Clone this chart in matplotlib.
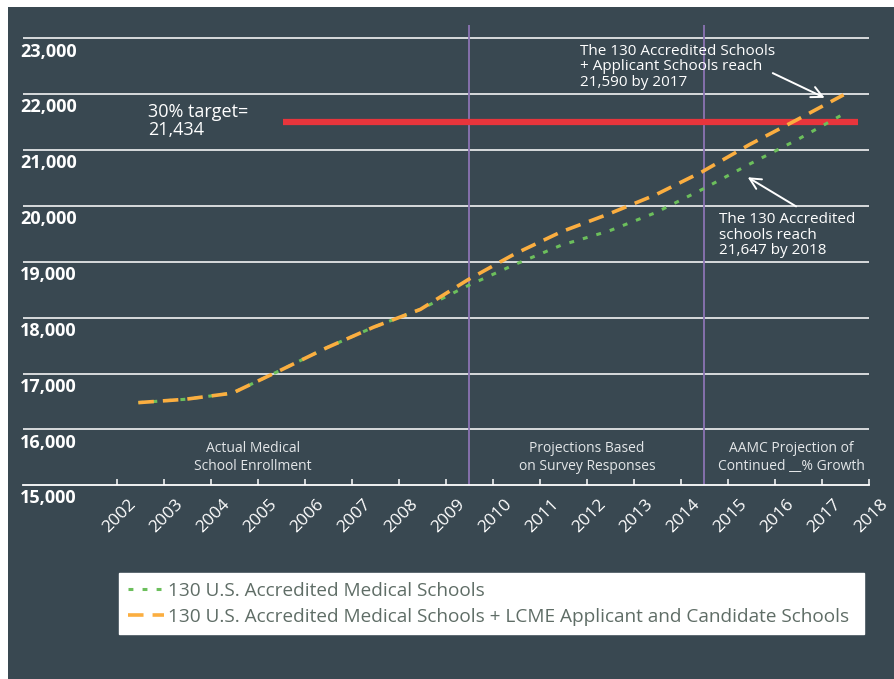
import matplotlib
matplotlib.use("Agg")
import matplotlib.pyplot as plt
from matplotlib.patches import Rectangle
import matplotlib.transforms as mtransforms

# ---------------- data ----------------
years = [2002, 2003, 2004, 2005, 2006, 2007, 2008, 2009,
         2010, 2011, 2012, 2013, 2014, 2015, 2016, 2017]
year_offset = 0.46  # points sit between year ticks
accredited = [16480, 16540, 16650, 17050, 17460, 17830, 18150, 18570,
              18950, 19300, 19550, 19880, 20300, 20750, 21180, 21647]
with_applicants = [16480, 16540, 16650, 17050, 17460, 17830, 18150, 18675,
                   19140, 19540, 19856, 20200, 20617, 21100, 21540, 21990]
target_value = 21500  # as drawn in the source (labelled 21,434)
target_span = [2005.54, 2017.77]
phase_bounds = [2009.5, 2014.5]
xtick_years = list(range(2002, 2019))
ytick_values = [15000, 16000, 17000, 18000, 19000, 20000, 21000, 22000, 23000]
phase_labels = ["Actual Medical\nSchool Enrollment",
                "Projections Based\non Survey Responses",
                "AAMC Projection of\nContinued __% Growth"]
phase_label_x = [2004.9, 2012.0, 2016.35]
series_names = ["130 U.S. Accredited Medical Schools",
                "130 U.S. Accredited Medical Schools + LCME Applicant and Candidate Schools"]

# ---------------- style ----------------
BG = "#394851"
GREEN = "#6cbf5c"
ORANGE = "#fbae40"
RED = "#e8353c"
PURPLE = "#8b74b3"
GRID = "#e4e6e7"
FONT = "Open Sans"
plt.rcParams["font.family"] = [FONT, "DejaVu Sans"]

W, H = 894, 679
fig = plt.figure(figsize=(W / 100, H / 100), dpi=100, facecolor=BG)
fig.patches.append(Rectangle((0, 0), 8 / W, 1, transform=fig.transFigure,
                             facecolor="white", edgecolor="none", zorder=-1))
fig.patches.append(Rectangle((0, 1 - 7 / H), 1, 7 / H, transform=fig.transFigure,
                             facecolor="white", edgecolor="none", zorder=-1))

left, right, bottom, top = 22.7, 869, 485.3, 25
ax = fig.add_axes([left / W, 1 - bottom / H, (right - left) / W, (bottom - top) / H])
ax.set_facecolor(BG)
ax.set_xlim(2000, 2018)
ax.set_ylim(15000, 23240)

for s in ["top", "right", "left"]:
    ax.spines[s].set_visible(False)
ax.spines["bottom"].set_color("white")
ax.spines["bottom"].set_linewidth(1.3)

for v in ytick_values[1:]:
    ax.axhline(v, color=GRID, lw=1.3, zorder=1)
ax.set_yticks([])

ytrans = mtransforms.blended_transform_factory(ax.transAxes, ax.transData)
for v in ytick_values:
    ax.annotate(f"{v:,}", xy=(0, v), xycoords=ytrans, xytext=(-2, -3),
                textcoords="offset points", ha="left", va="top",
                color="white", fontsize=13, fontweight="bold")

ax.set_xticks(xtick_years)
ax.set_xticklabels([str(y) for y in xtick_years], rotation=45, ha="right",
                   va="top", rotation_mode="anchor", color="white", fontsize=12.5)
ax.tick_params(axis="x", direction="in", length=4.5, width=1.1, color="white", pad=8)
offset = mtransforms.ScaledTranslation(0.11, 0, fig.dpi_scale_trans)
for lab in ax.get_xticklabels():
    lab.set_transform(lab.get_transform() + offset)

for b in phase_bounds:
    ax.axvline(b, color=PURPLE, lw=1.3, zorder=2)

for lab, xv in zip(phase_labels, phase_label_x):
    ax.text(xv, 15495, lab, ha="center", va="center", color="#e3e6e8",
            fontsize=10, linespacing=1.25)

ax.plot(target_span, [target_value, target_value], color=RED, lw=4.5,
        solid_capstyle="butt", zorder=3)
ax.text(2002.67, 21520, "30% target=\n21,434", color="white", fontsize=13,
        ha="left", va="center", linespacing=1.05)

xs = [y + year_offset for y in years]
l1, = ax.plot(xs, accredited, color=GREEN, lw=2.2, dashes=(1.6, 3.0),
              label=series_names[0], zorder=4)
l2, = ax.plot(xs, with_applicants, color=ORANGE, lw=2.6, dashes=(4.3, 2.5),
              label=series_names[1], zorder=5)

ax.text(2011.86, 22490, "The 130 Accredited Schools\n+ Applicant Schools reach\n21,590 by 2017",
        color="white", fontsize=11, ha="left", va="center", linespacing=1.08)
ax.annotate("", xy=(2017.11, 21915), xytext=(2015.9, 22400),
            arrowprops=dict(arrowstyle="->,head_length=0.8,head_width=0.4",
                            color="white", lw=1.4))
ax.text(2014.82, 19480, "The 130 Accredited\nschools reach\n21,647 by 2018",
        color="white", fontsize=11, ha="left", va="center", linespacing=1.08)
ax.annotate("", xy=(2015.37, 20540), xytext=(2016.5, 19967),
            arrowprops=dict(arrowstyle="->,head_length=0.8,head_width=0.4",
                            color="white", lw=1.4))

leg = fig.legend(handles=[l1, l2], labels=series_names, loc="upper left",
                 bbox_to_anchor=(119 / W, 1 - 574 / H, (864 - 119) / W, 0.001),
                 mode="expand", frameon=True,
                 facecolor="white", edgecolor="white", fancybox=False,
                 framealpha=1, fontsize=13.7, handlelength=1.9,
                 handletextpad=0.25, labelspacing=0.42, borderpad=0.45,
                 borderaxespad=0)
for t in leg.get_texts():
    t.set_color("#5f6d66")

fig.savefig("out.png", dpi=100, facecolor=BG)
